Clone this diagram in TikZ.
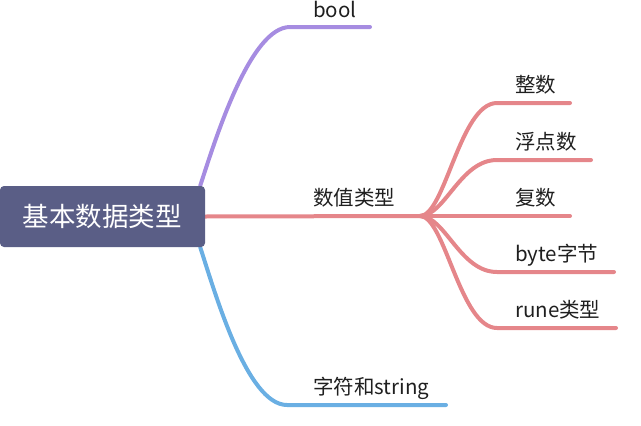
\documentclass[tikz,border=0pt]{standalone}
\usepackage{fontspec}
\newfontfamily\cjk{Noto Sans CJK SC}
\usetikzlibrary{positioning, backgrounds}
\definecolor{rootfill}{HTML}{5A5E86}
\definecolor{boolcol}{HTML}{A68CE1}
\definecolor{numcol}{HTML}{E5868A}
\definecolor{strcol}{HTML}{6AAFE3}
\tikzset{
  rootnode/.style = {fill=rootfill, text=white, rounded corners=4pt,
    minimum width=205pt, minimum height=61pt, inner sep=0pt,
    font=\cjk\fontsize{26.5}{30}\selectfont},
  leaf/.style = {anchor=base west, inner sep=0pt, text=black!88,
    font=\cjk\fontsize{20.5}{24}\selectfont},
  branch/.style = {line width=4pt, line cap=round}
}
\begin{document}
\begin{tikzpicture}[x=1pt, y=-1pt]
\useasboundingbox (0,0) rectangle (641,426);
\node [rootnode] (root) at (102.5,216.5) {基本数据类型};
% knees and ends of the first level
\coordinate (boolknee) at (290,27);
\coordinate (boolend) at (370,27);
\coordinate (hub) at (420,216);
\coordinate (strknee) at (287,405);
\coordinate (strend) at (446,405);
% second level
\coordinate (intknee) at (497,103);   \coordinate (intend) at (570,103);
\coordinate (floatknee) at (497,160); \coordinate (floatend) at (591,160);
\coordinate (cplxend) at (570,216);
\coordinate (byteknee) at (497,272);  \coordinate (byteend) at (614,272);
\coordinate (runeknee) at (497,328);  \coordinate (runeend) at (616,328);

\node [leaf] (bool) at (313,17.5) {bool};
\node [leaf] (num) at (313,205) {数值类型};
\node [leaf] (str) at (313,394) {字符和string};
\node [leaf] (int) at (515,92) {整数};
\node [leaf] (float) at (515,149) {浮点数};
\node [leaf] (cplx) at (515,205) {复数};
\node [leaf] (byte) at (515,261) {byte字节};
\node [leaf] (rune) at (515,317) {rune类型};

\begin{scope}[on background layer]
\draw [branch, boolcol] ([xshift=-5pt]root.north east)
  .. controls +(15,-46) and (250,27) .. (boolknee) -- (boolend);
\draw [branch, strcol] ([xshift=-5pt]root.south east)
  .. controls +(15,46) and (247,405) .. (strknee) -- (strend);
\draw [branch, numcol] (root.east) -- (hub);
\draw [branch, numcol] (hub) .. controls +(25,0) and (460,103) .. (intknee) -- (intend);
\draw [branch, numcol] (hub) .. controls +(25,0) and (460,160) .. (floatknee) -- (floatend);
\draw [branch, numcol] (hub) -- (cplxend);
\draw [branch, numcol] (hub) .. controls +(25,0) and (460,272) .. (byteknee) -- (byteend);
\draw [branch, numcol] (hub) .. controls +(25,0) and (460,328) .. (runeknee) -- (runeend);
\end{scope}
\end{tikzpicture}
\end{document}
